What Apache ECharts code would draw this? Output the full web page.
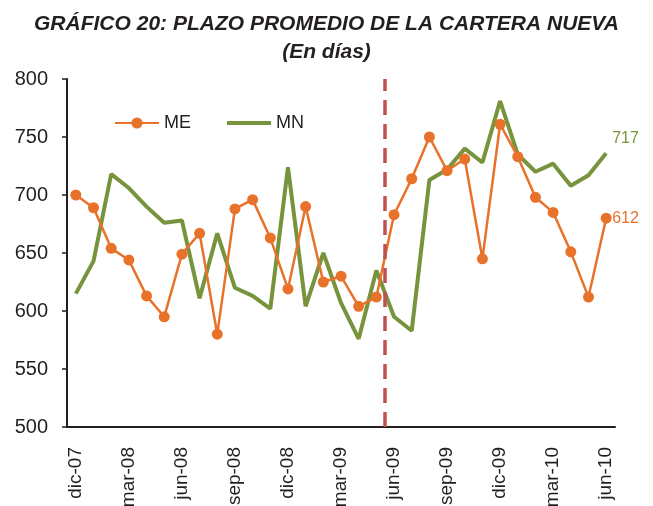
<!DOCTYPE html>
<html>
<head>
<meta charset="utf-8">
<script src="https://cdn.jsdelivr.net/npm/echarts@6/dist/echarts.min.js"></script>
<style>
  html, body { margin: 0; padding: 0; background: #fff; }
  #chart { width: 653px; height: 506px; }
</style>
</head>
<body>
<div id="chart"></div>
<script>
// meses dic-07 .. jun-10
const months = [
  'dic-07', 'ene-08', 'feb-08', 'mar-08', 'abr-08', 'may-08', 'jun-08', 'jul-08', 'ago-08', 'sep-08',
  'oct-08', 'nov-08', 'dic-08', 'ene-09', 'feb-09', 'mar-09', 'abr-09', 'may-09', 'jun-09', 'jul-09',
  'ago-09', 'sep-09', 'oct-09', 'nov-09', 'dic-09', 'ene-10', 'feb-10', 'mar-10', 'abr-10', 'may-10', 'jun-10'
]
const meValues = [
  700, 689, 654, 644, 613, 595, 649, 667, 580, 688,
  696, 663, 619, 690, 625, 630, 604, 612, 683, 714,
  750, 721, 731, 645, 761, 733, 698, 685, 651, 612, 680
]
const mnValues = [
  615, 643, 718, 706, 690, 676, 678, 611, 667, 620,
  613, 602, 724, 604, 650, 607, 576, 635, 595, 583,
  713, 722, 740, 728, 781, 735, 720, 727, 708, 717, 736
]
const endLabels = { ME: '612', MN: '717' }
const breakPoint = 17.5 // entre may-09 y jun-09

const ORANGE = '#E8722A'
const GREEN = '#77933C'
const RED = '#C0504D'
const TXT = '#231F20'
const FONT = '"Liberation Sans", Arial, sans-serif'
const TITLE_FONT = '"Liberation Sans Narrow", "Liberation Sans", Arial'

const c = echarts.init(document.getElementById('chart'))
c.setOption({
  animation: false,
  title: [
    {
      text: 'GRÁFICO 20: PLAZO PROMEDIO DE LA CARTERA NUEVA',
      left: 'center', top: 9,
      textStyle: { fontFamily: TITLE_FONT, fontStyle: 'italic', fontWeight: 'bold', fontSize: 21, color: TXT },
    },
    {
      text: '(En días)',
      left: 'center', top: 37,
      textStyle: { fontFamily: TITLE_FONT, fontStyle: 'italic', fontWeight: 'bold', fontSize: 21, color: TXT },
    },
  ],
  legend: {
    left: 109, top: 109,
    itemWidth: 44, itemHeight: 14, itemGap: 36,
    textStyle: { fontFamily: FONT, fontSize: 18, color: TXT },
    data: [
      { name: 'ME' },
      { name: 'MN', icon: 'path://M0,0L11,0L11,1L0,1Z' },
    ],
  },
  grid: { left: 67, right: 38, top: 79, bottom: 79, outerBoundsMode: 'none', containLabel: false },
  xAxis: [
    {
      type: 'category', data: months, boundaryGap: true,
      axisLine: { lineStyle: { color: TXT, width: 2 } },
      axisTick: { interval: 2, length: 5, lineStyle: { color: TXT, width: 1.5 } },
      axisLabel: { interval: 2, rotate: 90, margin: 20, fontFamily: FONT, fontSize: 19, color: TXT },
    },
    { type: 'value', min: -0.5, max: months.length - 0.5, show: false },
  ],
  yAxis: {
    type: 'value', min: 500, max: 800, interval: 50,
    splitLine: { show: false },
    axisLine: { show: true, onZero: false, lineStyle: { color: TXT, width: 2 } },
    axisTick: { show: true, length: 5, lineStyle: { color: TXT, width: 1.5 } },
    axisLabel: { margin: 19, fontFamily: FONT, fontSize: 20, color: TXT },
  },
  series: [
    {
      name: 'ME', type: 'line', data: meValues,
      symbol: 'circle', symbolSize: 11,
      itemStyle: { color: ORANGE }, lineStyle: { color: ORANGE, width: 2.5 },
      endLabel: { show: true, formatter: endLabels.ME, distance: 6, color: ORANGE, fontSize: 16, fontFamily: FONT },
      z: 3,
    },
    {
      name: 'MN', type: 'line', data: mnValues,
      symbol: 'none',
      itemStyle: { color: GREEN }, lineStyle: { color: GREEN, width: 4 },
      endLabel: { show: true, formatter: endLabels.MN, distance: 6, offset: [0, -15], color: GREEN, fontSize: 16, fontFamily: FONT },
      z: 2,
    },
    {
      name: 'corte', type: 'line', xAxisIndex: 1, data: [],
      markLine: {
        silent: true, symbol: 'none', label: { show: false },
        lineStyle: { color: RED, width: 3.5, type: [15, 9] },
        data: [{ xAxis: breakPoint }],
      },
      z: 4,
    },
  ],
})
</script>
</body>
</html>
